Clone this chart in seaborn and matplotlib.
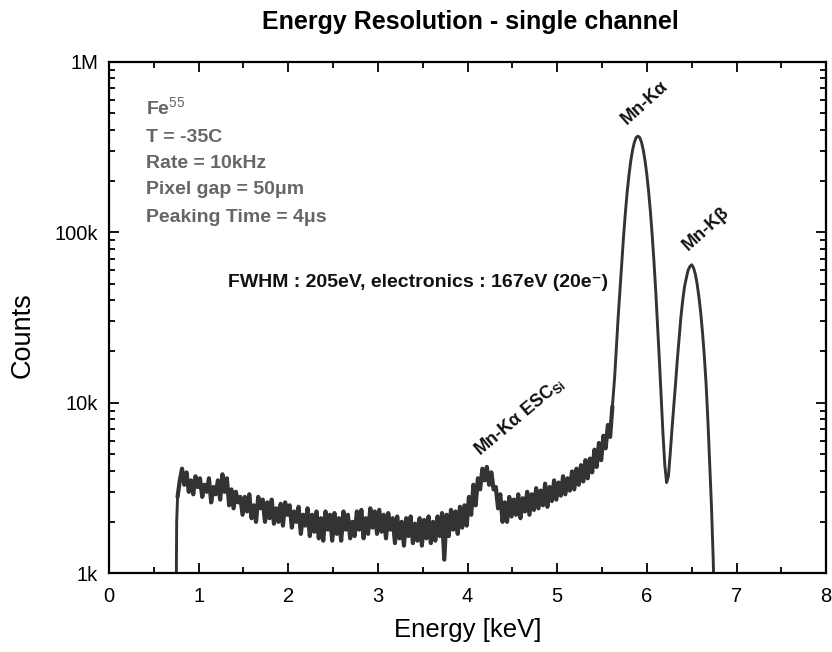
import numpy as np
import pandas as pd
import seaborn as sns
import matplotlib
matplotlib.use("Agg")
import matplotlib.pyplot as plt

# ---------------- data ----------------
# leading edge of the spectrum (threshold)
lead_energy = [0.745, 0.755]
lead_counts = [300, 2000]

# noisy continuum, sampled every 0.025 keV starting at 0.765 keV (values in k-counts)
noise_start = 0.765
noise_step = 0.025
noise_counts_k = [
    2.8, 3.5, 4.1, 3.3, 3.9, 3.0, 3.5, 2.9, 3.7, 3.2,
    3.6, 2.8, 3.3, 3.0, 3.6, 2.6, 3.2, 2.9, 3.5, 2.7,
    3.8, 3.0, 3.6, 2.5, 3.1, 2.4, 3.0, 2.6, 2.8, 2.2,
    2.8, 2.3, 2.9, 2.1, 2.5, 2.0, 2.8, 2.4, 2.7, 2.0,
    2.6, 2.1, 2.7, 1.95, 2.4, 2.0, 2.55, 1.9, 2.6, 2.2,
    2.5, 1.85, 2.3, 2.0, 2.45, 1.7, 2.2, 1.9, 2.4, 1.65,
    2.2, 1.75, 2.3, 1.6, 2.1, 1.55, 2.3, 1.8, 2.2, 1.55,
    2.25, 1.7, 2.1, 1.55, 2.3, 1.8, 2.2, 1.6, 2.0, 1.65,
    2.3, 1.8, 2.35, 1.6, 2.1, 1.7, 2.4, 1.85, 2.3, 1.7,
    2.35, 1.75, 2.2, 1.6, 2.25, 1.8, 2.1, 1.5, 2.15, 1.6,
    2.0, 1.45, 2.1, 1.65, 2.15, 1.5, 1.95, 1.55, 2.1, 1.45,
    2.05, 1.6, 2.15, 1.5, 2.0, 1.55, 2.15, 1.65, 2.25, 1.2,
    2.2, 1.65, 2.35, 1.8, 2.3, 1.7, 2.45, 1.85, 2.5, 1.9,
    2.8, 2.2, 3.3, 2.5, 3.6, 3.1, 4.1, 3.5, 4.2, 3.3,
    3.9, 3.1, 3.2, 2.4, 2.9, 2.0, 2.6, 2.0, 2.8, 2.15,
    2.7, 2.2, 2.9, 2.1, 2.75, 2.3, 3.0, 2.2, 2.9, 2.35,
    3.15, 2.4, 3.05, 2.5, 3.35, 2.45, 3.2, 2.65, 3.5, 2.7,
    3.4, 2.85, 3.7, 2.9, 3.6, 3.05, 3.95, 3.1, 4.1, 3.3,
    4.3, 3.45, 4.6, 3.6, 4.7, 3.9, 5.3, 4.2, 5.8, 4.6,
    6.4, 5.4, 7.4, 6.3, 9.5,
]

# Mn-Ka / Mn-Kb peaks, sampled every 0.02 keV starting at 5.64 keV (k-counts)
peak_start = 5.64
peak_step = 0.02
peak_counts_k = [
    14, 21, 32, 46, 66, 95, 130, 172, 216, 262,
    303, 337, 360, 367, 360, 338, 304, 262, 217, 172,
    131, 95, 66, 44, 28, 17.5, 10.5, 6.5, 4.3, 3.4,
    3.7, 5.0, 7.0, 9.5, 13, 18, 24, 32, 40, 48,
    54, 60, 63, 64.5, 62, 57, 50, 42, 34, 26,
    19, 13, 8, 4.5, 2.5, 1.2, 0.4,
]

x_ticks = [0, 1, 2, 3, 4, 5, 6, 7, 8]
y_ticks = [1e3, 1e4, 1e5, 1e6]
y_tick_labels = ["1k", "10k", "100k", "1M"]

info_lines = ["Fe$^{55}$", "T = -35C", "Rate = 10kHz", "Pixel gap = 50μm", "Peaking Time = 4μs"]
fwhm_text = "FWHM : 205eV, electronics : 167eV (20e⁻)"

# ---------------- build table ----------------
noise_energy = noise_start + noise_step * np.arange(len(noise_counts_k))
peak_energy = peak_start + peak_step * np.arange(len(peak_counts_k))
energy = np.concatenate([lead_energy, noise_energy, peak_energy])
counts = np.concatenate([lead_counts,
                         np.array(noise_counts_k) * 1000,
                         np.array(peak_counts_k) * 1000])
df = pd.DataFrame({"Energy": energy, "Counts": counts})
df_noise = pd.DataFrame({"Energy": noise_energy, "Counts": np.array(noise_counts_k) * 1000})

# ---------------- style ----------------
sns.set_theme(style="ticks")
plt.rcParams["font.family"] = ["Liberation Sans", "DejaVu Sans"]
plt.rcParams["mathtext.fontset"] = "custom"
plt.rcParams["mathtext.rm"] = "Liberation Sans"
plt.rcParams["mathtext.bf"] = "Liberation Sans:bold"
for k in ["text.color", "axes.labelcolor", "xtick.color", "ytick.color", "axes.edgecolor"]:
    plt.rcParams[k] = "black"

fig = plt.figure(figsize=(8.32, 6.52), dpi=100)
ax = fig.add_axes([0.131, 0.121, 0.862, 0.784])

line_color = "#333333"
sns.lineplot(data=df, x="Energy", y="Counts", ax=ax, color=line_color,
             linewidth=2.1, estimator=None, sort=False)
# the noisy continuum appears as a dense band
sns.lineplot(data=df_noise, x="Energy", y="Counts", ax=ax, color=line_color,
             linewidth=3.0, estimator=None, sort=False)

ax.set_yscale("log")
ax.set_xlim(0, 8)
ax.set_ylim(1e3, 1e6)
ax.set_xticks(x_ticks)
ax.set_xticklabels([str(t) for t in x_ticks])
ax.set_xticks(np.arange(0.5, 8, 1.0), minor=True)
ax.set_yticks(y_ticks)
ax.set_yticklabels(y_tick_labels)
ax.yaxis.set_minor_locator(matplotlib.ticker.LogLocator(base=10, subs=np.arange(2, 10)))
ax.yaxis.set_minor_formatter(matplotlib.ticker.NullFormatter())

for s in ax.spines.values():
    s.set_linewidth(1.6)
    s.set_color("black")
ax.tick_params(which="both", direction="in", top=True, right=True, color="black", width=1.3)
ax.tick_params(which="major", length=7.5)
ax.tick_params(which="minor", length=4)
ax.tick_params(axis="x", which="major", pad=10, labelsize=14.5)
ax.tick_params(axis="y", which="major", pad=8, labelsize=14.5)

ax.set_xlabel("Energy [keV]", fontsize=18.5)
ax.set_ylabel("Counts", fontsize=19.5)
ax.xaxis.set_label_coords(0.5, -0.088)
ax.yaxis.set_label_coords(-0.102, 0.466)

fig.text(0.565, 0.966, "Energy Resolution - single channel", ha="center", va="center",
         fontsize=18, fontweight="bold")

info_y = [0.91, 0.853, 0.802, 0.75, 0.695]
for txt, yy in zip(info_lines, info_y):
    ax.text(0.052, yy, txt, transform=ax.transAxes, ha="left", va="center",
            fontsize=14, fontweight="bold", color="#666666")

ax.text(0.166, 0.569, fwhm_text, transform=ax.transAxes, ha="left", va="center",
        fontsize=14, fontweight="bold", color="#111111")

ax.text(0.7476, 0.92, "Mn-Kα", transform=ax.transAxes, ha="center", va="center",
        rotation=42, fontsize=13, fontweight="bold", color="#111111")
ax.text(0.8326, 0.673, "Mn-Kβ", transform=ax.transAxes, ha="center", va="center",
        rotation=42, fontsize=13, fontweight="bold", color="#111111")
ax.text(0.572, 0.307, r"Mn-Kα ESC$_{\mathbf{Si}}$", transform=ax.transAxes, ha="center",
        va="center", rotation=40, fontsize=13, fontweight="bold", color="#111111")

fig.savefig("out.png", dpi=100)
